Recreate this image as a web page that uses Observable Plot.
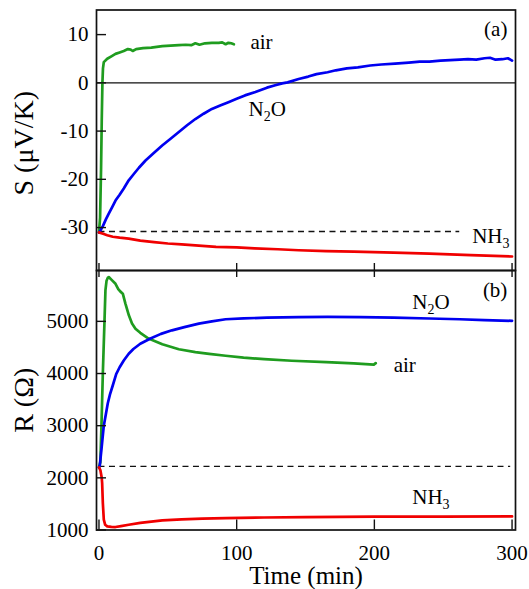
<!DOCTYPE html>
<html>
<head>
<meta charset="utf-8">
<script src="https://cdn.jsdelivr.net/npm/d3@7"></script>
<script src="https://cdn.jsdelivr.net/npm/@observablehq/plot@0.6"></script>
<style>
  html, body { margin: 0; padding: 0; background: #fff; }
  #chart { position: relative; width: 529px; height: 589px; background: #fff; }
  #chart svg { position: absolute; left: 0; overflow: visible; }
  #chart svg, #chart svg text, #chart svg tspan { font-family: 'Liberation Serif', 'Times New Roman', serif !important; font-weight: normal !important; font-variant: normal !important; }
</style>
</head>
<body>
<div id="chart"></div>
<script>
// ---------- Panel (a): Seebeck coefficient S (µV/K) vs time (min) ----------
const tAirA = [0, 0.8, 1.5, 2.0, 2.5, 2.9, 3.5, 6, 9, 12, 15, 18, 21, 23, 24.5, 27, 32, 38, 46, 52, 58, 63, 67, 70, 73, 77, 82, 87, 89.5, 92, 94, 96, 98];
const sAirA = [-31, -28, -18, -8, 0, 3, 4.3, 5.0, 5.5, 6.0, 6.3, 6.6, 7.0, 6.9, 6.6, 7.0, 7.2, 7.3, 7.6, 7.7, 7.8, 7.9, 7.8, 8.2, 7.9, 8.2, 8.3, 8.3, 8.4, 8.0, 8.3, 8.2, 8.0];

const tN2OA = [0, 1.1, 3, 5, 7.1, 9.5, 12, 15, 18, 21.6, 25, 29, 33.8, 40, 45.9, 52, 58, 64, 70, 76, 82, 88, 94, 100, 106, 113.6, 122, 128, 133, 137, 145, 152, 158, 166, 172, 180, 188, 197, 205, 215, 225, 233, 240, 248, 255, 262, 268, 274, 280, 284, 288, 293, 297, 300];
const sN2OA = [-31, -30.6, -29.6, -28.3, -27.1, -25.8, -24.4, -23.2, -21.9, -20.2, -19.0, -17.6, -16.1, -14.5, -13.0, -11.6, -10.2, -8.8, -7.5, -6.4, -5.4, -4.7, -4.0, -3.3, -2.6, -1.9, -1.0, -0.5, -0.1, 0.1, 0.8, 1.3, 1.8, 2.2, 2.6, 3.0, 3.2, 3.6, 3.8, 4.0, 4.2, 4.4, 4.4, 4.6, 4.7, 4.8, 4.9, 4.8, 5.1, 5.2, 4.8, 4.9, 5.1, 4.6];

const tNH3A = [0, 3, 6, 10, 15, 21.6, 30, 40, 50, 60, 70, 85, 100, 113, 130, 145, 165, 185, 214, 240, 270, 300];
const sNH3A = [-31.0, -31.3, -31.6, -31.9, -32.1, -32.3, -32.7, -33.0, -33.3, -33.5, -33.7, -34.0, -34.1, -34.3, -34.5, -34.7, -34.9, -35.0, -35.2, -35.4, -35.7, -36.0];

const dashA = {level: -30.8, from: 0, to: 262};
const yTicksA = [10, 0, -10, -20, -30];
const yDomainA = [-38.9, 15.1];

// ---------- Panel (b): resistance R (Ω) vs time (min) ----------
const tAirB = [0, 1, 1.8, 2.8, 4, 4.7, 5.5, 6.5, 7.1, 9, 12, 14, 15.6, 17.3, 19.2, 21.7, 24, 26.5, 30, 36, 46, 58, 70, 80, 92, 105, 120, 140, 165, 185, 199.6, 201];
const rAirB = [2200, 2300, 3000, 4000, 5000, 5600, 5780, 5840, 5850, 5800, 5720, 5620, 5570, 5530, 5340, 5115, 4960, 4860, 4780, 4670, 4560, 4465, 4410, 4375, 4340, 4305, 4275, 4245, 4220, 4195, 4170, 4200];

const tN2OB = [0, 0.6, 2, 3.5, 5, 6.4, 8, 10, 12.5, 15, 18, 21.6, 25, 30, 37.4, 45, 53, 62, 72.5, 82, 92, 105, 122, 145, 166, 190, 214, 240, 262, 280, 300];
const rN2OB = [2200, 2240, 2600, 3000, 3220, 3430, 3600, 3770, 3990, 4120, 4250, 4380, 4470, 4570, 4670, 4760, 4828, 4890, 4956, 5000, 5040, 5058, 5070, 5080, 5085, 5080, 5070, 5055, 5040, 5025, 5010];

const tNH3B = [0, 1, 2, 2.3, 2.8, 3.5, 4.5, 6, 9, 12, 16, 21.6, 30, 46, 60, 75, 92, 120, 150, 200, 250, 300];
const rNH3B = [2200, 2150, 2000, 1900, 1520, 1200, 1100, 1070, 1060, 1057, 1075, 1100, 1135, 1184, 1205, 1218, 1229, 1240, 1248, 1255, 1258, 1260];

const dashB = {level: 2220, from: 0, to: 299};
const yTicksB = [5000, 4000, 3000, 2000, 1000];
const yDomainB = [1000, 5975];

// ---------- shared ----------
const xTicks = [0, 100, 200, 300];
const xDomain = [-1.8, 302.5];
const gasNames = ["air", "N2O", "NH3"];
const gasColors = ["#1f9c1f", "#0000f0", "#f00000"];

// curve labels (left-aligned at t) and panel tags (right-aligned at t)
const curveLabelsA = [
  {t: 110, v: 8.4, text: "air"},
  {t: 108.6, v: -5.4, text: "N2O"},
  {t: 271, v: -31.9, text: "NH3"}
];
const tagA = [{t: 296.6, v: 11.2, text: "(a)"}];
const curveLabelsB = [
  {t: 227.5, v: 5363, text: "N2O"},
  {t: 214, v: 4153, text: "air"},
  {t: 227.5, v: 1636, text: "NH3"}
];
const tagB = [{t: 296.6, v: 5587, text: "(b)"}];

const yLabelA = "S (\u03bcV/K)";
const yLabelB = "R (\u03a9)";
const xLabel = "Time (min)";

// ---------- build tables ----------
function rows(ts, vs, gas) { return ts.map((t, i) => ({t, v: vs[i], gas})); }
const dataA = [...rows(tAirA, sAirA, "air"), ...rows(tN2OA, sN2OA, "N2O"), ...rows(tNH3A, sNH3A, "NH3")];
const dataB = [...rows(tAirB, rAirB, "air"), ...rows(tN2OB, rN2OB, "N2O"), ...rows(tNH3B, rNH3B, "NH3")];

const FONT = "'Liberation Serif', 'Times New Roman', serif";
const INK = "#000";
const fmt = d => String(d);

function panel({data, yDomain, yTicks, labels, tag, dash, zeroLine, height, marginTop, marginBottom, topTicks, bottomTickLen, topTickLen, yLabel, yLabelDy, withXAxis}) {
  const frameH = height - marginTop - marginBottom;
  const frameW = 529 - 96 - 14;
  const marks = [
    Plot.frame({stroke: "#111", strokeWidth: 1.7}),
    zeroLine ? Plot.ruleY([0], {stroke: "#111", strokeWidth: 1.4}) : null,
    Plot.ruleY([dash], {y: "level", x1: "from", x2: "to", stroke: "#111", strokeWidth: 1.4, strokeDasharray: "6,4.5"}),
    Plot.line(data, {x: "t", y: "v", z: "gas", stroke: "gas", strokeWidth: 2.7, strokeLinejoin: "round", strokeLinecap: "round"}),
    // inward ticks
    Plot.tickY(yTicks, {y: d => d, insetRight: frameW - 10, stroke: "#111", strokeWidth: 1.4}),
    Plot.tickX(xTicks, {x: d => d, insetTop: frameH - bottomTickLen, stroke: "#111", strokeWidth: 1.4}),
    topTicks ? Plot.tickX(xTicks, {x: d => d, insetBottom: frameH - topTickLen, stroke: "#111", strokeWidth: 1.4}) : null,
    Plot.axisY(yTicks, {tickSize: 0, tickPadding: 8, fontSize: 21, fontFamily: FONT, tickFormat: fmt, label: null, fill: INK}),
    withXAxis ? Plot.axisX(xTicks, {tickSize: 0, tickPadding: 15, fontSize: 21, fontFamily: FONT, tickFormat: fmt, label: null, fill: INK}) : null,
    Plot.text(labels, {x: "t", y: "v", text: "text", textAnchor: "start", fontSize: 21, fontFamily: FONT, fill: INK, lineAnchor: "middle"}),
    Plot.text(tag, {x: "t", y: "v", text: "text", textAnchor: "end", fontSize: 21, fontFamily: FONT, fill: INK, lineAnchor: "middle"}),
    Plot.text([yLabel], {frameAnchor: "left", rotate: -90, dx: -72, dy: yLabelDy, fontSize: 28, fontFamily: FONT, fill: INK, lineAnchor: "middle", textAnchor: "middle"}),
    withXAxis ? Plot.text([xLabel], {frameAnchor: "bottom", dy: 45.5, fontSize: 25, fontFamily: FONT, fill: INK, lineAnchor: "middle"}) : null
  ].filter(Boolean);
  return Plot.plot({
    width: 529,
    height,
    marginLeft: 96,
    marginRight: 14,
    marginTop,
    marginBottom,
    style: {fontFamily: FONT, background: "transparent", overflow: "visible"},
    x: {domain: xDomain, axis: null},
    y: {domain: yDomain, axis: null},
    color: {domain: gasNames, range: gasColors},
    marks
  });
}

function subscripts(svg) {
  const ns = "http://www.w3.org/2000/svg";
  svg.querySelectorAll("text").forEach(t => {
    const m = t.textContent.match(/^(N|NH)([23])(O?)$/);
    if (!m) return;
    t.textContent = "";
    const a = document.createElementNS(ns, "tspan");
    a.textContent = m[1];
    const b = document.createElementNS(ns, "tspan");
    b.textContent = m[2];
    b.setAttribute("dy", "5");
    b.setAttribute("font-size", "14");
    t.append(a, b);
    if (m[3]) {
      const c = document.createElementNS(ns, "tspan");
      c.textContent = m[3];
      c.setAttribute("dy", "-5");
      t.append(c);
    }
  });
}

const chart = document.getElementById("chart");

const svgA = panel({
  data: dataA, yDomain: yDomainA, yTicks: yTicksA, labels: curveLabelsA, tag: tagA, dash: dashA, zeroLine: true,
  height: 272, marginTop: 9.5, marginBottom: 2, topTicks: false, bottomTickLen: 7, topTickLen: 0,
  yLabel: yLabelA, yLabelDy: 3, withXAxis: false
});
svgA.style.top = "0px";
subscripts(svgA);
chart.appendChild(svgA);

const svgB = panel({
  data: dataB, yDomain: yDomainB, yTicks: yTicksB, labels: curveLabelsB, tag: tagB, dash: dashB, zeroLine: false,
  height: 319, marginTop: 0, marginBottom: 59.5, topTicks: true, bottomTickLen: 10, topTickLen: 7,
  yLabel: yLabelB, yLabelDy: 0, withXAxis: true
});
svgB.style.top = "270px";
subscripts(svgB);
chart.appendChild(svgB);
</script>
</body>
</html>
